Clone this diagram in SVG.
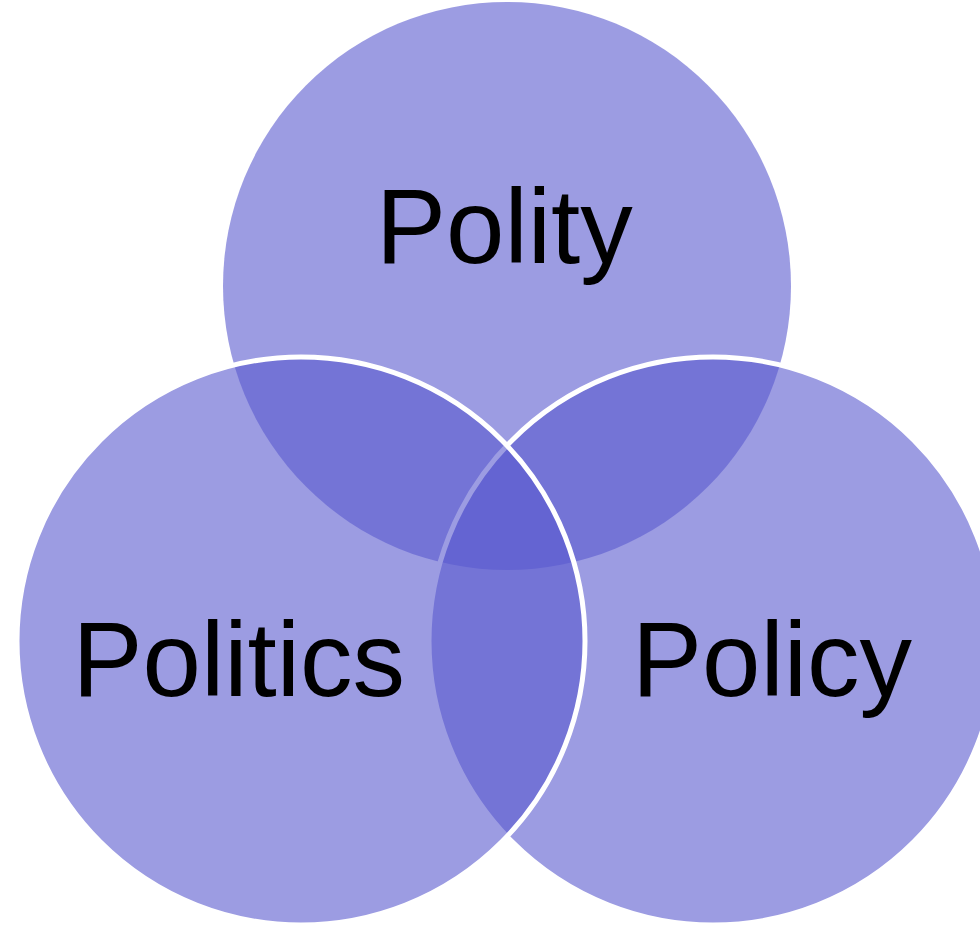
<svg xmlns="http://www.w3.org/2000/svg" width="980" height="926" viewBox="0 0 980 926">
  <style>
    .circle { fill: rgb(90,90,206); fill-opacity: 0.6; }
    .outlined { stroke: #ffffff; stroke-width: 5; }
    .label { font-family: "Liberation Sans", Arial, sans-serif; font-size: 105px; fill: #000000; }
  </style>
  <rect x="0" y="0" width="980" height="926" fill="#ffffff"/>
  <g id="polity">
    <circle class="circle" cx="507" cy="286" r="284"/>
    <text class="label" x="376" y="263">Polity</text>
  </g>
  <g id="policy">
    <circle class="circle outlined" cx="713" cy="641" r="284"/>
    <text class="label" x="632" y="696">Policy</text>
  </g>
  <g id="politics">
    <circle class="circle outlined" cx="301" cy="641" r="284"/>
    <text class="label" x="72.5" y="696">Politics</text>
  </g>
</svg>
